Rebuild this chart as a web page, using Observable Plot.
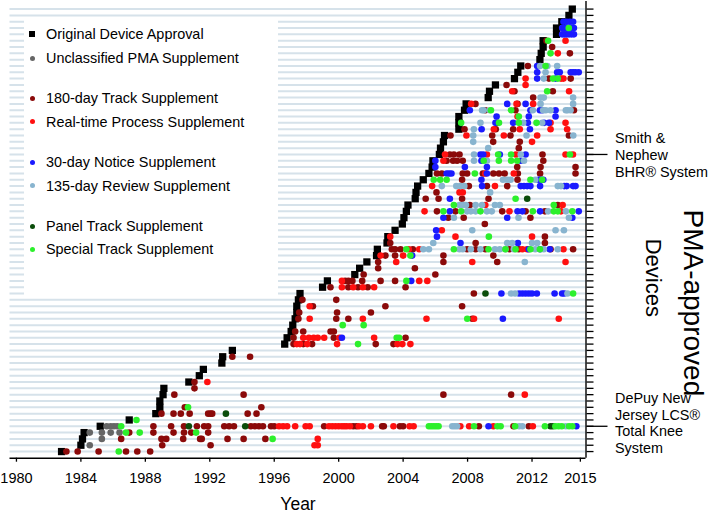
<!DOCTYPE html>
<html>
<head>
<meta charset="utf-8">
<script src="https://cdn.jsdelivr.net/npm/d3@7"></script>
<script src="https://cdn.jsdelivr.net/npm/@observablehq/plot@0.6"></script>
<style>
  html, body { margin: 0; padding: 0; background: #fff; }
  #wrap { position: relative; width: 708px; height: 514px; font-family: "Liberation Sans", Arial, Helvetica, sans-serif; }
  #legend { position: absolute; left: 24px; top: 18px; width: 254px; height: 278px; background: #fff; }
  .item { position: absolute; left: 0; height: 18px; line-height: 18px; font-size: 14.4px; color: #000; white-space: nowrap; }
  .mk { position: absolute; display: block; }
  .lbl { position: absolute; left: 22px; top: 0; }
</style>
</head>
<body>
<div id="wrap"><div id="chart"></div><div id="legend"></div></div>
<script>
// ---- Data ----
// approval year of each PMA device, row 0 (bottom) .. row 70 (top)
const approval = [1982.8, 1984.0, 1984.1, 1984.2, 1985.2, 1987.0, 1988.65, 1988.9, 1988.9, 1989.1,
  1989.15, 1990.7, 1991.35, 1991.6, 1992.75, 1992.8, 1993.4, 1996.65, 1996.8, 1997.05,
  1997.15, 1997.3, 1997.4, 1997.4, 1997.5, 1997.6, 1999.0, 1999.3, 2001.0, 2001.3,
  2001.75, 2002.35, 2002.4, 2003.0, 2003.05, 2003.5, 2003.95, 2004.05, 2004.2, 2004.3,
  2004.75, 2004.8, 2004.9, 2005.25, 2005.6, 2005.8, 2005.85, 2006.25, 2006.32, 2006.5,
  2006.57, 2007.46, 2007.46, 2007.46, 2007.81, 2007.91, 2009.28, 2009.36, 2009.73, 2010.91,
  2011.12, 2011.3, 2012.49, 2012.57, 2012.69, 2012.69, 2013.52, 2013.52, 2013.85, 2014.29, 2014.5];

// supplements: [row, year]
const unclassified = [[1,1984.55],[2,1985.3],[3,1984.55],[3,1985.3],[3,1985.85],[3,1986.4],
  [4,1985.6],[4,1985.85],[4,1986.05],[4,1986.25]];

const track180 = [
  [0,1983.1],[0,1983.8],[0,1985.1],[0,1986.8],[0,1987.5],[0,1988.3],
  [1,1989.05],[1,1992.05],
  [2,1986.5],[2,1989.0],[2,1989.3],[2,1990.35],[2,1991.4],[2,1991.5],[2,1993.1],[2,1994.1],[2,1995.45],
  [3,1987.0],[3,1988.5],[3,1989.75],[3,1990.4],[3,1990.85],[3,1991.9],
  [4,1988.5],[4,1989.6],[4,1990.4],[4,1991.2],[4,1991.65],[4,1991.9],[4,1992.9],[4,1993.2],[4,1993.5],
  [4,1994.55],[4,1994.8],[4,1995.05],[4,1995.3],[4,1995.8],[4,1996.0],[4,1999.1],[4,2000.9],[4,2001.1],
  [4,2002.7],[4,2002.8],[4,2003.8],[4,2004.0],[4,2008.7],[4,2010.85],[4,2011.8],
  [6,1989.0],[6,1989.75],[6,1990.2],[6,1990.75],[6,1991.9],[6,1992.05],[6,1992.15],[6,1994.35],[6,1994.9],
  [7,1990.45],[7,1995.2],
  [9,1989.8],[9,1994.1],[9,2006.5],[9,2010.7],
  [10,1991.05],[11,1991.05],[15,1993.4],[15,1994.5],
  [17,1997.2],[17,1997.8],[17,1998.35],[17,2002.3],[17,2003.4],
  [18,1997.2],[18,1999.7],[18,2004.15],
  [19,1997.3],[19,1997.8],[19,1999.5],[19,1999.7],
  [21,1997.5],[21,1999.85],[21,2000.6],[21,2008.3],
  [22,1997.55],[22,1999.9],[22,2002.0],
  [23,1998.4],[23,2002.9],[23,2007.66],
  [24,1997.75],[24,1999.85],
  [25,2008.39],
  [26,1999.49],[26,2000.6],[26,2001.2],[26,2001.8],[26,2004.15],
  [27,2000.4],[27,2000.6],[27,2000.85],[27,2001.46],[27,2002.6],[27,2003.5],
  [28,2001.55],[28,2006.0],
  [29,2002.45],[29,2004.73],
  [30,2002.45],[30,2006.5],[30,2009.84],
  [31,2002.9],[31,2003.5],[31,2006.5],[31,2009.6],
  [32,2003.3],[32,2003.5],[32,2003.84],[32,2004.6],[32,2007.97],[32,2008.5],[32,2009.11],[32,2010.6],[32,2011.18],[32,2013.15],[32,2014.55],
  [33,2003.2],[33,2008.5],[33,2012.8],
  [34,2012.8],[36,2009.07],
  [37,2006.8],[37,2007.76],[37,2011.9],
  [38,2006.1],[38,2007.25],[38,2010.15],[38,2011.6],[38,2012.8],
  [39,2008.14],[39,2013.6],
  [40,2005.4],[40,2006.2],[40,2007.66],[40,2009.3],
  [41,2006.07],
  [42,2008.08],[42,2009.2],[42,2010.46],
  [43,2007.66],[43,2011.1],
  [44,2006.1],[44,2006.4],[44,2007.7],[44,2007.97],[44,2008.95],[44,2009.6],[44,2009.95],[44,2010.3],[44,2011.12],[44,2012.5],[44,2014.7],
  [45,2011.08],[45,2012.53],[45,2014.7],
  [46,2006.7],[46,2007.1],[46,2007.35],[46,2007.7],[46,2012.7],
  [47,2006.9],[47,2007.15],[47,2007.5],[47,2012.65],
  [48,2011.18],[49,2009.59],[49,2011.24],
  [50,2006.94],[50,2009.53],[50,2010.66],[50,2014.29],
  [51,2007.81],[51,2009.75],[51,2010.83],
  [52,2009.85],
  [54,2009.1],[54,2010.97],[54,2014.6],
  [55,2008.49],[55,2011.1],
  [56,2012.07],[57,2010.91],[57,2013.29],[58,2010.42],
  [59,2013.05],[59,2014.4],[61,2011.74],[63,2014.35],[64,2013.25],[65,2012.9]];

const realtime = [
  [1,1998.5],[1,1998.7],[2,1998.7],
  [4,1996.3],[4,1996.55],[4,1996.8],[4,1997.3],[4,1997.95],[4,1998.2],[4,1999.4],[4,1999.6],[4,1999.8],[4,2000.0],
  [4,2000.2],[4,2000.35],[4,2000.5],[4,2000.7],[4,2001.25],[4,2001.5],[4,2002.0],[4,2003.4],[4,2004.4],[4,2004.65],
  [4,2007.55],[4,2008.1],[4,2009.6],[4,2012.05],
  [9,2011.55],[11,1991.85],
  [17,1997.4],[17,1997.6],[17,1998.05],[17,1999.9],[17,2003.65],[17,2003.95],[17,2004.45],
  [18,1997.8],[18,1998.15],[18,1998.45],[18,1998.7],[18,1999.1],[18,2000.05],[18,2002.2],
  [21,1998.2],[21,2001.5],[21,2005.45],[21,2008.4],[21,2013.66],
  [23,1998.2],
  [26,2000.2],[26,2000.9],[26,2001.5],[26,2002.2],
  [27,2000.2],[27,2005.0],[27,2005.5],
  [30,2003.57],[30,2008.29],[30,2014.08],
  [31,2002.6],[31,2004.0],
  [32,2004.35],[32,2005.0],[32,2011.4],[32,2011.7],[32,2013.95],
  [34,2003.2],[34,2007.25],[34,2012.0],
  [35,2006.4],
  [38,2005.33],[38,2010.6],[38,2013.8],
  [39,2009.1],[39,2013.9],
  [41,2007.5],[41,2007.7],
  [42,2005.8],[42,2009.7],
  [44,2009.1],[44,2010.87],
  [46,2006.5],
  [47,2006.6],[47,2009.2],[47,2011.0],[47,2014.08],[47,2014.54],
  [49,2012.0],
  [50,2007.93],[50,2010.25],[50,2012.32],
  [51,2009.63],[51,2011.24],[51,2013.15],[51,2014.18],
  [52,2013.15],[52,2014.08],[53,2011.1],
  [55,2008.22],[55,2011.04],[55,2012.07],
  [57,2010.77],[57,2014.3],[58,2011.6],
  [59,2011.6],[59,2013.8],[59,2013.95],[63,2013.6],[65,2014.08]];

const notice30 = [
  [4,2009.3],[4,2014.75],[18,2000.2],[21,2010.19],
  [25,2010.1],[25,2011.2],[25,2011.4],[25,2011.6],[25,2011.8],[25,2012.0],[25,2012.3],[25,2013.4],[25,2013.87],[25,2014.0],
  [27,2004.5],[31,2004.56],
  [32,2011.8],[32,2012.5],[32,2013.1],
  [33,2007.56],[33,2011.12],[34,2006.1],[35,2006.05],
  [37,2006.5],[37,2010.46],[37,2014.5],
  [38,2006.9],[38,2011.1],[38,2011.4],[38,2012.5],[38,2014.9],
  [40,2006.9],
  [42,2008.9],[42,2011.3],[42,2011.5],[42,2011.7],[42,2011.9],[42,2012.5],[42,2014.0],[42,2014.15],[42,2014.55],[42,2014.7],
  [43,2008.86],[43,2012.4],[43,2012.55],[43,2012.7],
  [44,2006.7],[44,2006.85],[44,2007.0],[44,2009.2],
  [45,2006.0],[45,2007.83],[45,2009.2],
  [46,2006.0],[46,2008.86],[46,2011.3],
  [47,2008.8],[47,2008.97],[47,2010.0],[47,2011.6],
  [51,2008.87],[51,2011.87],
  [52,2009.73],[52,2010.83],[52,2011.74],[52,2012.75],[52,2013.05],
  [53,2009.8],[53,2011.8],[53,2013.46],
  [54,2008.14],[54,2011.9],[54,2012.49],[54,2012.63],[54,2013.46],
  [55,2010.46],[55,2011.6],
  [59,2012.32],[59,2013.46],
  [60,2012.32],[60,2013.56],[60,2013.72],[60,2014.4],[60,2014.55],[60,2014.7],[60,2014.9],
  [61,2012.32],
  [66,2013.87],[66,2014.0],[66,2014.15],[66,2014.3],[66,2014.45],[66,2014.6],
  [67,2013.87],[67,2014.05],[67,2014.4],[67,2014.6],
  [68,2013.95],[68,2014.15],[68,2014.35],[68,2014.55]];

const review135 = [
  [4,2007.05],[4,2007.2],[4,2007.35],[4,2011.2],[4,2011.4],[4,2014.1],
  [25,2010.7],[25,2010.95],[25,2014.2],
  [30,2011.55],
  [32,2005.25],[32,2005.6],[32,2007.5],[32,2007.7],[32,2008.2],[32,2008.8],[32,2009.7],[32,2010.0],[32,2010.35],[32,2010.87],[32,2012.2],[32,2012.73],[32,2013.6],
  [33,2005.87],[33,2010.46],[33,2010.77],[33,2012.0],[33,2012.32],
  [35,2008.29],[35,2013.46],[35,2013.98],
  [37,2007.15],[37,2011.16],[37,2014.29],
  [38,2007.97],[38,2008.2],[38,2008.5],[38,2009.2],[38,2009.5],[38,2013.0],[38,2014.1],
  [39,2007.5],[39,2007.7],[39,2007.9],[39,2008.5],[39,2008.9],[39,2009.7],[39,2010.0],
  [41,2009.4],
  [42,2006.4],[42,2007.3],[42,2007.55],[42,2007.8],[42,2013.6],[42,2013.8],
  [43,2010.2],[43,2010.46],[43,2010.67],[43,2012.2],
  [46,2008.4],[46,2009.2],[46,2011.5],
  [47,2008.4],[47,2011.3],
  [48,2009.28],[49,2008.35],
  [50,2008.35],[50,2011.66],[50,2014.56],
  [51,2008.39],
  [52,2008.8],[52,2011.45],[52,2012.63],
  [54,2008.9],[54,2009.0],[54,2009.38],[54,2012.05],[54,2012.69],[54,2012.85],[54,2013.15],[54,2014.1],[54,2014.2],[54,2014.39],
  [55,2012.53],[55,2014.55],
  [56,2012.53],[56,2012.73],[56,2014.55],
  [59,2012.73],[60,2012.84],
  [61,2012.5],[61,2012.95],[61,2013.56]];

const panel = [[4,1990.7],[4,1994.2],[4,2013.15],[4,2013.3],[6,1993.0],[25,2009.11],[40,2011.7]];

const special = [
  [0,1986.35],[2,1995.9],[3,1986.8],[3,1987.65],[3,1991.15],
  [4,1986.5],[4,2005.6],[4,2005.75],[4,2005.9],[4,2006.05],[4,2006.2],[4,2008.4],[4,2009.85],[4,2010.05],[4,2010.95],
  [4,2012.8],[4,2013.45],[4,2013.65],[4,2013.85],[4,2014.3],[4,2014.5],
  [5,1987.45],[7,1990.65],[17,2001.2],[18,2003.6],[18,2003.75],[20,2000.25],[20,2001.55],[21,2007.98],[25,2014.55],
  [27,2004.2],[31,2004.45],
  [32,2004.2],[32,2007.15],[32,2009.3],[32,2010.35],[32,2010.98],[32,2011.9],[32,2012.49],
  [34,2009.32],
  [38,2006.5],[38,2007.6],[38,2008.8],[38,2012.05],[38,2013.35],[38,2013.6],[38,2014.5],
  [39,2007.15],[39,2013.35],[40,2010.98],
  [43,2005.9],[43,2006.3],[43,2006.7],[43,2011.9],[43,2012.63],
  [44,2008.45],
  [46,2009.0],[46,2009.94],[46,2010.7],[46,2011.08],
  [47,2009.9],[47,2010.7],[47,2014.35],
  [52,2007.6],[52,2009.95],[52,2011.18],[52,2012.28],
  [53,2011.18],[54,2009.45],[54,2010.7],[57,2012.94],[59,2013.3],[59,2013.6],[61,2012.84],[63,2013.15],[65,2013.0],[67,2014.28]];

const legendLabels = ["Original Device Approval", "Unclassified PMA Supplement",
  "180-day Track Supplement", "Real-time Process Supplement",
  "30-day Notice Supplement", "135-day Review Supplement",
  "Panel Track Supplement", "Special Track Supplement"];
const seriesColors = ["#000000", "#666666", "#8b0a0a", "#ff1010", "#1a1aff", "#88b4cf", "#0b4d0b", "#2cf02c"];
const xTickValues = [1980, 1984, 1988, 1992, 1996, 2000, 2004, 2008, 2012, 2015];
const labelSmith = "Smith &\nNephew\nBHR® System";
const labelDePuy = "DePuy New\nJersey LCS®\nTotal Knee\nSystem";
const smithRow = 47, depuyRow = 4;

// ---- Chart ----
const rows = d3.range(approval.length);
const xDomain = [1979.6, 2015.35];
const yDomain = [-1.05, 71.2];
const gridColor = "#d6e2ea";
const seriesData = [unclassified, track180, realtime, notice30, review135, panel, special];

const marks = [
  Plot.ruleY(rows, {stroke: gridColor, strokeWidth: 2}),
  Plot.ruleY([yDomain[0]], {stroke: "#000", strokeWidth: 1.4}),
  Plot.ruleX([xDomain[1]], {stroke: "#000", strokeWidth: 1.4}),
  Plot.axisX({ticks: xTickValues, tickFormat: d => String(d), tickSize: 4, tickPadding: 11, fontSize: 14.5, label: null, strokeWidth: 1.3}),
  Plot.axisY({anchor: "right", ticks: rows, tickSize: 7, tickFormat: () => "", label: null, strokeWidth: 1.3}),
  Plot.axisY({anchor: "right", ticks: [depuyRow, smithRow], tickSize: 21, tickFormat: () => "", label: null, strokeWidth: 1.3}),
  Plot.dot(approval.map((x, i) => [i, x]), {x: d => d[1], y: d => d[0], symbol: "square", r: 4.1, fill: seriesColors[0]})
];
seriesData.forEach((arr, k) => {
  marks.push(Plot.dot(arr, {x: d => d[1], y: d => d[0], r: 3.3, fill: seriesColors[k + 1]}));
});
marks.push(
  Plot.text([labelSmith], {y: [smithRow], frameAnchor: "right", dx: 29, textAnchor: "start", lineAnchor: "middle", lineHeight: 1.2, fontSize: 14.4, fill: "#000"}),
  Plot.text([labelDePuy], {y: [depuyRow], frameAnchor: "right", dx: 29, dy: -3.5, textAnchor: "start", lineAnchor: "middle", lineHeight: 1.16, fontSize: 14.4, fill: "#000"}),
  Plot.text(["PMA-approved"], {frameAnchor: "right", dx: 106.5, dy: 73, rotate: 90, textAnchor: "middle", lineAnchor: "middle", fontSize: 28, fill: "#000"}),
  Plot.text(["Devices"], {frameAnchor: "right", dx: 67.5, dy: 48, rotate: 90, textAnchor: "middle", lineAnchor: "middle", fontSize: 22, fill: "#000"}),
  Plot.text(["Year"], {frameAnchor: "bottom", dy: 46, textAnchor: "middle", lineAnchor: "middle", fontSize: 17.5, fill: "#000"})
);

const chart = Plot.plot({
  width: 708, height: 514,
  marginLeft: 9.5, marginRight: 122.5, marginTop: 1, marginBottom: 56.3,
  x: {domain: xDomain},
  y: {domain: yDomain},
  style: {fontFamily: "'Liberation Sans', Arial, Helvetica, sans-serif", background: "#fff", color: "#000", overflow: "visible"},
  marks
});
document.getElementById("chart").appendChild(chart);

// ---- Legend (inside the plot, top-left) ----
const legendCenters = [34, 58.3, 98.3, 121.7, 162.3, 185.7, 226, 249.3];
const legend = document.getElementById("legend");
legendLabels.forEach((lab, i) => {
  const it = document.createElement("div");
  it.className = "item";
  it.style.top = (legendCenters[i] - 18 - 9) + "px";
  it.style.width = "250px";
  const mk = document.createElement("span");
  mk.className = "mk";
  const s = i === 0 ? 6 : 5;
  mk.style.width = s + "px"; mk.style.height = s + "px";
  mk.style.left = (8.3 - s / 2) + "px"; mk.style.top = (9 - s / 2) + "px";
  mk.style.background = seriesColors[i];
  if (i > 0) mk.style.borderRadius = "50%";
  const tx = document.createElement("span");
  tx.className = "lbl";
  tx.textContent = lab;
  it.appendChild(mk); it.appendChild(tx);
  legend.appendChild(it);
});
</script>
</body>
</html>
